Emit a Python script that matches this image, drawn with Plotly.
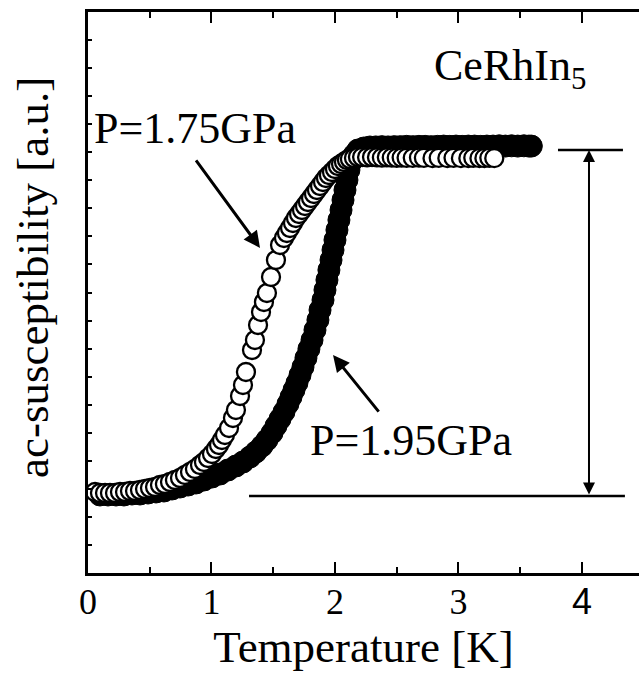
import plotly.graph_objects as go

# P = 1.75 GPa (open circles): temperature [K], ac-susceptibility [a.u.]
T_175 = [0.057, 0.097, 0.138, 0.178, 0.219, 0.259, 0.300, 0.340, 0.381, 0.421,
         0.462, 0.502, 0.543, 0.583, 0.623, 0.664, 0.704, 0.745, 0.785, 0.826,
         0.866, 0.907, 0.939, 0.972, 1.004, 1.036, 1.061, 1.085, 1.109, 1.142,
         1.174, 1.198, 1.231, 1.255, 1.279, 1.328, 1.352, 1.377, 1.401, 1.425,
         1.449, 1.482, 1.522, 1.555, 1.587, 1.611, 1.636, 1.660, 1.684, 1.709,
         1.733, 1.757, 1.781, 1.806, 1.830, 1.854, 1.879, 1.903, 1.927, 1.951,
         1.976, 2.000, 2.024, 2.049, 2.073, 2.097, 2.121, 2.154, 2.186, 2.22,
         2.26, 2.30, 2.34, 2.38, 2.42, 2.46, 2.50, 2.54, 2.58, 2.63,
         2.68, 2.72, 2.79, 2.84, 2.91, 2.96, 3.02, 3.08, 3.12, 3.17,
         3.21, 3.25, 3.29]
chi_175 = [2.888, 2.852, 2.852, 2.852, 2.852, 2.888, 2.888, 2.923, 2.923, 2.959,
           2.995, 3.030, 3.066, 3.137, 3.173, 3.244, 3.316, 3.387, 3.494, 3.601,
           3.708, 3.850, 3.957, 4.100, 4.242, 4.421, 4.563, 4.742, 4.920, 5.169,
           5.526, 5.811, 6.310, 6.702, 7.166, 7.950, 8.307, 8.841, 9.305, 9.661,
           9.982, 10.553, 11.159, 11.693, 11.943, 12.121, 12.299, 12.478, 12.656, 12.799,
           12.941, 13.084, 13.226, 13.369, 13.512, 13.654, 13.797, 13.939, 14.082, 14.189,
           14.296, 14.403, 14.510, 14.581, 14.652, 14.724, 14.759, 14.795, 14.831, 14.83,
           14.82, 14.83, 14.82, 14.81, 14.82, 14.81, 14.80, 14.81, 14.80, 14.80,
           14.81, 14.80, 14.79, 14.80, 14.79, 14.80, 14.79, 14.79, 14.80, 14.79,
           14.79, 14.80, 14.79]

# P = 1.95 GPa (filled circles)
T_195 = [0.097, 0.162, 0.227, 0.291, 0.356, 0.421, 0.486, 0.551, 0.615, 0.680,
         0.745, 0.810, 0.874, 0.939, 1.004, 1.069, 1.134, 1.198, 1.255, 1.312,
         1.360, 1.409, 1.449, 1.490, 1.522, 1.555, 1.587, 1.619, 1.644, 1.668,
         1.692, 1.717, 1.741, 1.765, 1.789, 1.814, 1.838, 1.862, 1.879, 1.903,
         1.919, 1.935, 1.951, 1.968, 1.984, 2.000, 2.016, 2.032, 2.049, 2.065,
         2.081, 2.097, 2.113, 2.130, 2.154, 2.186, 2.235, 2.283, 2.33, 2.38,
         2.43, 2.48, 2.53, 2.58, 2.63, 2.68, 2.73, 2.78, 2.83, 2.88,
         2.93, 2.98, 3.03, 3.08, 3.13, 3.18, 3.23, 3.28, 3.33, 3.38,
         3.43, 3.48, 3.53, 3.57, 3.59]
chi_195 = [2.781, 2.781, 2.781, 2.781, 2.816, 2.816, 2.852, 2.888, 2.923, 2.995,
           3.066, 3.137, 3.209, 3.316, 3.422, 3.529, 3.672, 3.815, 3.957, 4.135,
           4.314, 4.528, 4.742, 4.991, 5.241, 5.490, 5.740, 6.025, 6.275, 6.524,
           6.774, 7.059, 7.344, 7.665, 7.986, 8.307, 8.663, 9.020, 9.376, 9.733,
           10.089, 10.446, 10.802, 11.159, 11.515, 11.872, 12.228, 12.585, 12.941, 13.298,
           13.654, 14.011, 14.367, 14.652, 14.902, 15.080, 15.152, 15.187, 15.19, 15.20,
           15.19, 15.20, 15.20, 15.21, 15.20, 15.21, 15.21, 15.20, 15.21, 15.22,
           15.21, 15.22, 15.21, 15.22, 15.22, 15.21, 15.22, 15.22, 15.23, 15.22,
           15.23, 15.22, 15.23, 15.22, 15.22]

# reference levels of the full diamagnetic step
chi_low = 2.745
chi_high = 15.08

X_RANGE = [0, 4.462]
Y_RANGE = [0, 20]
X_TICKS = [0, 1, 2, 3, 4]
X_TICK_TEXT = ["0", "1", "2", "3", '<span style="font-family:Liberation Sans">4</span>']

FONT = "Liberation Serif"

fig = go.Figure()
fig.add_trace(go.Scatter(
    x=T_195, y=chi_195, mode="markers", name="P=1.95GPa",
    marker=dict(symbol="circle", size=22, color="black",
                line=dict(color="black", width=1)),
    showlegend=False))
fig.add_trace(go.Scatter(
    x=T_175, y=chi_175, mode="markers", name="P=1.75GPa",
    marker=dict(symbol="circle", size=18, color="white",
                line=dict(color="black", width=2.3)),
    showlegend=False))

# step reference lines
fig.add_shape(type="line", xref="x", yref="y", x0=1.304, x1=4.348,
              y0=chi_low, y1=chi_low, line=dict(color="black", width=2.5))
fig.add_shape(type="line", xref="x", yref="y", x0=3.806, x1=4.332,
              y0=chi_high, y1=chi_high, line=dict(color="black", width=2.5))

# double arrow between the levels
fig.add_annotation(x=4.057, y=chi_high, ax=4.057, ay=chi_low, xref="x", yref="y",
                   axref="x", ayref="y", text="", showarrow=True, arrowhead=2,
                   arrowside="end+start", arrowsize=1.2, arrowwidth=2, arrowcolor="black")

# labels with arrows
fig.add_annotation(x=1.393, y=11.59, ax=0.866, ay=14.76, xref="x", yref="y",
                   axref="x", ayref="y", text="", showarrow=True, arrowhead=2,
                   arrowsize=1.1, arrowwidth=3, arrowcolor="black")
fig.add_annotation(x=1.984, y=7.77, ax=2.364, ay=5.70, xref="x", yref="y",
                   axref="x", ayref="y", text="", showarrow=True, arrowhead=2,
                   arrowsize=1.1, arrowwidth=3, arrowcolor="black")

fig.add_annotation(x=0.87, y=15.86, xref="x", yref="y", text="P=1.75GPa",
                   showarrow=False, font=dict(family=FONT, size=44, color="black"))
fig.add_annotation(x=2.615, y=4.74, xref="x", yref="y", text="P=1.95GPa",
                   showarrow=False, font=dict(family=FONT, size=44, color="black"))
fig.add_annotation(x=3.417, y=18.0, xref="x", yref="y", text="CeRhIn<sub>5</sub>",
                   showarrow=False, font=dict(family=FONT, size=44, color="black"))

# y-axis title (placed slightly above the plot centre as in the reference)
fig.add_annotation(xref="paper", yref="paper", x=0, y=0.526, xshift=-55,
                   text="ac-susceptibility [a.u.]", textangle=-90, showarrow=False,
                   xanchor="center", yanchor="middle",
                   font=dict(family=FONT, size=45, color="black"))

fig.update_xaxes(range=X_RANGE, tickvals=X_TICKS, ticktext=X_TICK_TEXT,
                 ticks="inside", ticklen=11, tickwidth=2, tickcolor="black",
                 minor=dict(dtick=0.5, ticks="inside", ticklen=6, tickwidth=2, tickcolor="black"),
                 showline=True, linewidth=2.5, linecolor="black", mirror="ticks",
                 showgrid=False, zeroline=False, ticklabelstandoff=-5,
                 tickfont=dict(family=FONT, size=36, color="black"),
                 title=dict(text="Temperature [K]", font=dict(family=FONT, size=45, color="black"),
                            standoff=0))
fig.update_yaxes(range=Y_RANGE, dtick=1, tick0=0, showticklabels=False,
                 ticks="inside", ticklen=4, tickwidth=1.5, tickcolor="black",
                 showline=True, linewidth=2.5, linecolor="black", mirror=False,
                 showgrid=False, zeroline=False)

fig.update_layout(width=639, height=675, margin=dict(l=88, r=0, t=12, b=102),
                  plot_bgcolor="white", paper_bgcolor="white", showlegend=False)

fig.write_html("out.html", config={"displayModeBar": False},
               post_script="document.body.style.margin='0px';"
                           "document.body.style.overflow='hidden';")
